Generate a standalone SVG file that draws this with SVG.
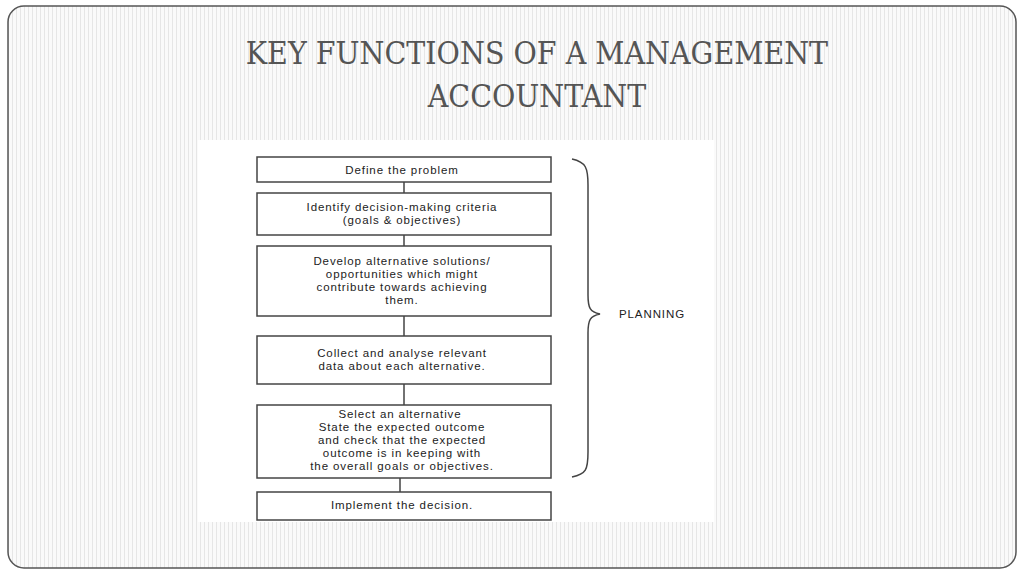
<svg xmlns="http://www.w3.org/2000/svg" width="1024" height="575" viewBox="0 0 1024 575">
<defs>
<pattern id="st" width="4" height="10" patternUnits="userSpaceOnUse"><rect width="4" height="10" fill="#fafafa"/><rect width="1" height="10" fill="#e6e6e6"/></pattern>
<style>
.b{fill:#fff;stroke:#444;stroke-width:1.5}
.t{font-family:"Liberation Sans",Arial,sans-serif;font-size:11.5px;letter-spacing:0.9px;fill:#222;text-anchor:middle}
.c{stroke:#444;stroke-width:1.5;fill:none}
.h{font-family:'DejaVu Serif','Liberation Serif',serif;font-size:31px;fill:#555;text-anchor:middle}
</style>
</defs>
<rect width="1024" height="575" fill="#fff"/>
<rect x="8" y="6" width="1008" height="562" rx="16" fill="url(#st)" stroke="#555" stroke-width="1.5"/>
<g transform="translate(537 0) scale(0.92 1) translate(-537 0)">
<text class="h" x="537" y="64">KEY FUNCTIONS OF A MANAGEMENT</text>
<text class="h" x="537" y="107">ACCOUNTANT</text>
</g>
<rect x="198" y="140" width="516" height="382" fill="#fff"/>
<g id="connectors">
<path class="c" d="M404 182V193M404 235V246M404 316V336M404 384V405M400 478V492"/>
<path class="c" d="M572 159C586 162 588 168 588 185V295C588 308 590 312 600 314C590 316 588 320 588 333V452C588 470 586 474 572 477" stroke-width="2.5" stroke="#222"/>
</g>
<g id="n1"><rect class="b" x="257" y="157" width="294" height="25"/><text class="t" x="402" y="174">Define the problem</text></g>
<g id="n2"><rect class="b" x="257" y="193" width="294" height="42"/><text class="t" x="402" y="211">Identify decision-making criteria</text><text class="t" x="402" y="224">(goals &amp; objectives)</text></g>
<g id="n3"><rect class="b" x="257" y="246" width="294" height="70"/><text class="t" x="402" y="265">Develop alternative solutions/</text><text class="t" x="402" y="278">opportunities which might</text><text class="t" x="402" y="291">contribute towards achieving</text><text class="t" x="402" y="304">them.</text></g>
<g id="n4"><rect class="b" x="257" y="336" width="294" height="48"/><text class="t" x="402" y="357">Collect and analyse relevant</text><text class="t" x="402" y="370">data about each alternative.</text></g>
<g id="n5"><rect class="b" x="257" y="405" width="294" height="73"/><text class="t" x="400" y="418">Select an alternative</text><text class="t" x="402" y="431">State the expected outcome</text><text class="t" x="402" y="444">and check that the expected</text><text class="t" x="402" y="457">outcome is in keeping with</text><text class="t" x="402" y="470">the overall goals or objectives.</text></g>
<g id="n6"><rect class="b" x="257" y="492" width="294" height="28"/><text class="t" x="402" y="509">Implement the decision.</text></g>
<g id="planning"><text class="t" x="652" y="318">PLANNING</text></g>
</svg>
